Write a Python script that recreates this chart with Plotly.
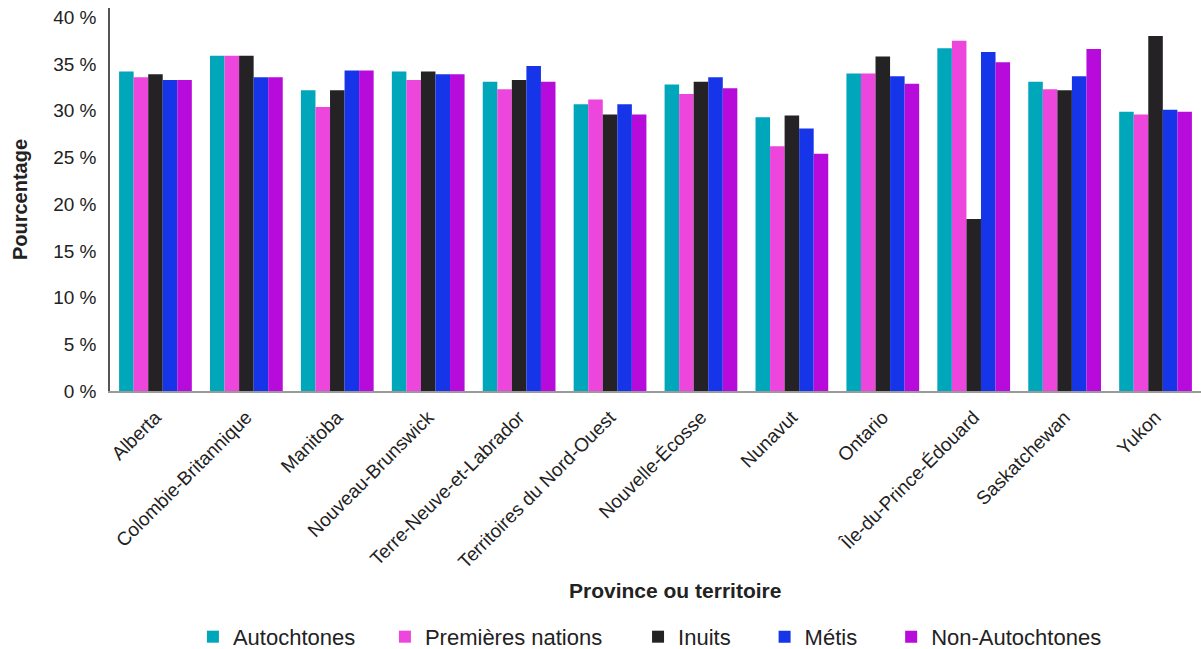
import plotly.graph_objects as go

# Provinces / territories on the x axis
provinces = [
    "Alberta", "Colombie-Britannique", "Manitoba", "Nouveau-Brunswick",
    "Terre-Neuve-et-Labrador", "Territoires du Nord-Ouest", "Nouvelle-Écosse",
    "Nunavut", "Ontario", "Île-du-Prince-Édouard", "Saskatchewan", "Yukon",
]

# Percentage by identity group, one value per province / territory
autochtones = [34.2, 35.9, 32.2, 34.2, 33.1, 30.7, 32.8, 29.3, 34.0, 36.7, 33.1, 29.9]
premieres_nations = [33.6, 35.9, 30.4, 33.3, 32.3, 31.2, 31.8, 26.2, 34.0, 37.5, 32.3, 29.6]
inuits = [33.9, 35.9, 32.2, 34.2, 33.3, 29.6, 33.1, 29.5, 35.8, 18.4, 32.2, 38.0]
metis = [33.3, 33.6, 34.3, 33.9, 34.8, 30.7, 33.6, 28.1, 33.7, 36.3, 33.7, 30.1]
non_autochtones = [33.3, 33.6, 34.3, 33.9, 33.1, 29.6, 32.4, 25.4, 32.9, 35.2, 36.6, 29.9]

y_ticks = [0, 5, 10, 15, 20, 25, 30, 35, 40]
y_tick_labels = [f"{v} %" for v in y_ticks]

series = [
    ("Autochtones", autochtones, "#00A6B9"),
    ("Premières nations", premieres_nations, "#EC46DC"),
    ("Inuits", inuits, "#252225"),
    ("Métis", metis, "#1634E8"),
    ("Non-Autochtones", non_autochtones, "#B70BDB"),
]

# Left edge (paper fraction) of each one-entry legend along the bottom row
legend_x = [0.076, 0.252, 0.484, 0.600, 0.716]

font_family = "Liberation Sans, Arial, Helvetica, sans-serif"
legend_font = dict(size=22, color="#222222", family=font_family)

fig = go.Figure()
legend_layout = {}
for i, (name, values, color) in enumerate(series):
    key = "legend" if i == 0 else f"legend{i + 1}"
    fig.add_trace(go.Bar(
        name=name,
        x=provinces,
        y=values,
        marker=dict(color=color, line=dict(width=0)),
        legend=key,
    ))
    legend_layout[key] = dict(
        orientation="h",
        x=legend_x[i],
        xanchor="left",
        y=-0.642,
        yanchor="middle",
        font=legend_font,
        itemwidth=30,
        bgcolor="rgba(0,0,0,0)",
        borderwidth=0,
    )

fig.update_layout(
    width=1201,
    height=649,
    barmode="group",
    bargap=0.2,
    bargroupgap=0,
    plot_bgcolor="white",
    paper_bgcolor="white",
    margin=dict(l=110, r=0, t=8, b=258, autoexpand=False),
    font=dict(family=font_family, color="#222222"),
    showlegend=True,
    xaxis=dict(
        tickangle=-45,
        tickfont=dict(size=19),
        showline=True,
        linecolor="#9a9a9a",
        linewidth=1.5,
        ticks="",
        ticklabelstandoff=6,
        automargin=False,
    ),
    yaxis=dict(
        title=dict(text="<b>Pourcentage</b>", font=dict(size=20), standoff=20),
        range=[0, 41],
        tickvals=y_ticks,
        ticktext=y_tick_labels,
        tickfont=dict(size=19),
        showline=True,
        linecolor="#555555",
        linewidth=1.5,
        showgrid=False,
        zeroline=False,
        ticks="",
        ticklabelstandoff=8,
        automargin=False,
    ),
    annotations=[
        dict(
            text="<b>Province ou territoire</b>",
            xref="paper", yref="paper",
            x=0.518, y=-0.52,
            xanchor="center", yanchor="middle",
            showarrow=False,
            font=dict(size=21, color="#222222", family=font_family),
        )
    ],
    **legend_layout,
)

fig.write_html("out.html")
